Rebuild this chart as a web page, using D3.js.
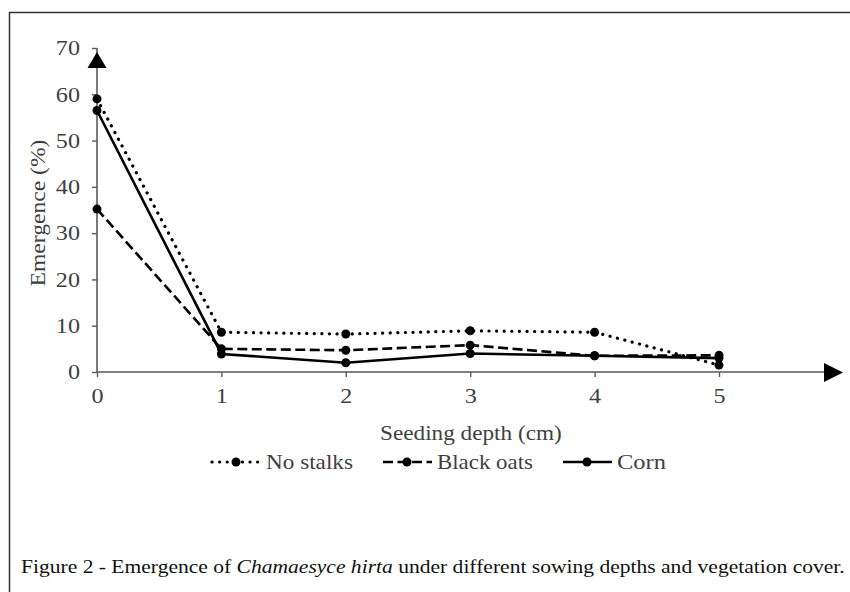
<!DOCTYPE html>
<html>
<head>
<meta charset="utf-8">
<script src="https://cdn.jsdelivr.net/npm/d3@7"></script>
<style>
  body { margin: 0; background: #fff; }
  svg { display: block; }
  text { font-family: "Liberation Serif", "Times New Roman", serif; }
</style>
</head>
<body>
<svg id="chart" width="850" height="592"></svg>
<script>
// seeding depths (cm)
var depths = [0, 1, 2, 3, 4, 5];
var yTicks = [0, 10, 20, 30, 40, 50, 60, 70];

// emergence (%) for each cover
var noStalks  = [59.0, 8.6, 8.2, 8.9, 8.6, 1.5];
var blackOats = [35.2, 5.0, 4.7, 5.8, 3.5, 3.6];
var corn      = [56.5, 3.9, 2.0, 4.0, 3.5, 3.0];

var seriesNames = ["No stalks", "Black oats", "Corn"];

var series = [
  { name: seriesNames[0], values: noStalks,  dash: "0.1,7.5", cap: "round", w: 3.2 },
  { name: seriesNames[1], values: blackOats, dash: "10,4.5", cap: "butt", w: 2.6 },
  { name: seriesNames[2], values: corn,      dash: null, cap: "butt", w: 2.6 }
];

var svg = d3.select("#chart");
var axisCol = "#595959";
var textCol = "#404040";
var serif = "'Liberation Serif', 'Times New Roman', serif";
var stretch = 1.15; // the reference's type is a little wide

// places a text so that its natural width is stretched to 'width'
function wideText(parent, str, x0, y0, width, size, col, rot) {
  var g = parent.append("g");
  var t = g.append("text").attr("font-size", size).attr("fill", col)
    .style("font-family", serif).text(str);
  var len = t.node().getComputedTextLength();
  var s = width / len;
  if (rot) {
    g.attr("transform", "translate(" + x0 + "," + y0 + ") rotate(-90) scale(" + s + ",1)");
    t.attr("x", -len / 2);
  } else {
    g.attr("transform", "translate(" + x0 + "," + y0 + ") scale(" + s + ",1)");
  }
  return t;
}

// frame
svg.append("path")
  .attr("d", "M9.5,600 V12.5 H860")
  .attr("fill", "none").attr("stroke", "#333").attr("stroke-width", 1.5);

var x = d3.scaleLinear().domain([0, 5]).range([97, 719]);
var y = d3.scaleLinear().domain([0, 70]).range([372, 48]);

// y axis
var yAxis = svg.append("g").attr("transform", "translate(97,0)")
  .call(d3.axisLeft(y).tickValues(yTicks).tickSize(5).tickFormat(d3.format("d")));
yAxis.select(".domain").remove();
yAxis.selectAll("line").attr("stroke", axisCol).attr("stroke-width", 1.4);
yAxis.selectAll("text")
  .attr("x", 0).attr("font-size", 21).attr("fill", textCol)
  .attr("transform", "translate(-17,0) scale(" + stretch + ",1)")
  .style("font-family", serif);

// x axis
var xAxis = svg.append("g").attr("transform", "translate(0,372)")
  .call(d3.axisBottom(x).tickValues(depths).tickSize(5).tickPadding(11).tickFormat(d3.format("d")));
xAxis.select(".domain").remove();
xAxis.selectAll("line").attr("stroke", axisCol).attr("stroke-width", 1.4);
xAxis.selectAll("text")
  .attr("font-size", 21).attr("fill", textCol)
  .attr("transform", "scale(" + stretch + ",1)")
  .style("font-family", serif);

// axis lines with arrow heads
svg.append("line").attr("x1", 97).attr("x2", 97).attr("y1", 372).attr("y2", 48)
  .attr("stroke", axisCol).attr("stroke-width", 1.6);
svg.append("line").attr("x1", 97).attr("x2", 830).attr("y1", 372).attr("y2", 372)
  .attr("stroke", axisCol).attr("stroke-width", 1.6);
svg.append("path").attr("d", "M97,52 L106.5,68 L87.5,68 Z").attr("fill", "#000");
svg.append("path").attr("d", "M843,372.5 L824,363 L824,382 Z").attr("fill", "#000");

// axis titles
wideText(svg, "Emergence (%)", 45, 213, 147, 21, textCol, true);
wideText(svg, "Seeding depth (cm)", 380, 440, 182, 21, textCol, false);

// lines + markers
var line = d3.line().x(function(d, i) { return x(depths[i]); }).y(function(d) { return y(d); });

series.forEach(function(s) {
  svg.append("path")
    .datum(s.values)
    .attr("d", line)
    .attr("fill", "none")
    .attr("stroke", "#000")
    .attr("stroke-width", s.w)
    .attr("stroke-linecap", s.cap)
    .attr("stroke-dasharray", s.dash);
  svg.selectAll(null).data(s.values).enter().append("circle")
    .attr("cx", function(d, i) { return x(depths[i]); })
    .attr("cy", function(d) { return y(d); })
    .attr("r", 4.5).attr("fill", "#000");
});

// legend
var legX = [212, 383, 563];
var legW = [87, 96, 49];
var legY = 462;
series.forEach(function(s, i) {
  var g = svg.append("g").attr("transform", "translate(" + legX[i] + "," + legY + ")");
  g.append("line").attr("x1", 0).attr("x2", 49).attr("y1", 0).attr("y2", 0)
    .attr("stroke", "#000").attr("stroke-width", s.w)
    .attr("stroke-linecap", s.cap).attr("stroke-dasharray", s.dash);
  g.append("circle").attr("cx", 24).attr("cy", 0).attr("r", 4.5).attr("fill", "#000");
  wideText(g, s.name, 54, 7, legW[i], 21, textCol, false);
});

// caption
var capG = svg.append("g");
var cap = capG.append("text").attr("font-size", 18.5).attr("fill", "#111").style("font-family", serif);
cap.append("tspan").text("Figure 2 - Emergence of ");
cap.append("tspan").attr("font-style", "italic").text("Chamaesyce hirta");
cap.append("tspan").text(" under different sowing depths and vegetation cover.");
var capLen = cap.node().getComputedTextLength();
capG.attr("transform", "translate(21,573) scale(" + (824 / capLen) + ",1)");
</script>
</body>
</html>
